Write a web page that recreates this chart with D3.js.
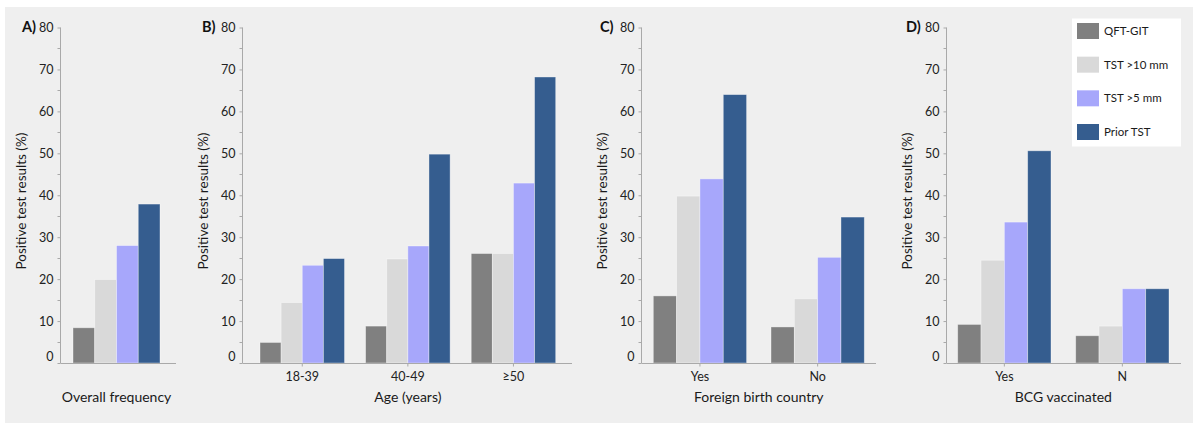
<!DOCTYPE html>
<html>
<head>
<meta charset="utf-8">
<script src="https://cdn.jsdelivr.net/npm/d3@7"></script>
<style>
  html, body { margin: 0; padding: 0; background: #ffffff; }
  svg { display: block; font-family: Lato, "Open Sans", sans-serif; }
</style>
</head>
<body>
<svg id="chart" width="1200" height="431"></svg>
<script>
// ---- data ----
const series = ["QFT-GIT", "TST >10 mm", "TST >5 mm", "Prior TST"];
const colors = ["#808080", "#d9d9d9", "#a7a7fb", "#355d8f"];
const yTicks = [0, 10, 20, 30, 40, 50, 60, 70, 80];

const catsA = ["Overall frequency"];
const valsA = [[8.4, 19.9, 28.0, 37.9]];

const catsB = ["18-39", "40-49", "≥50"];
const valsB = [
  [4.9, 14.4, 23.3, 24.9],
  [8.8, 24.8, 27.9, 49.8],
  [26.1, 26.1, 42.9, 68.2]
];

const catsC = ["Yes", "No"];
const valsC = [
  [16.0, 39.8, 43.9, 64.0],
  [8.6, 15.3, 25.2, 34.8]
];

const catsD = ["Yes", "N"];
const valsD = [
  [9.2, 24.5, 33.6, 50.6],
  [6.5, 8.8, 17.7, 17.7]
];

// ---- layout ----
const panels = [
  { letter: "A)", title: "Overall frequency", cats: catsA, vals: valsA, showCats: false,
    axisX: 60.5, xEnd: 176, groupStart: 73, step: 87, groupWidth: 87, letterX: 22 },
  { letter: "B)", title: "Age (years)", cats: catsB, vals: valsB, showCats: true,
    axisX: 242.5, xEnd: 572, groupStart: 260, step: 105.6, groupWidth: 84.5, letterX: 202 },
  { letter: "C)", title: "Foreign birth country", cats: catsC, vals: valsC, showCats: true,
    axisX: 641.5, xEnd: 876, groupStart: 653.3, step: 117.7, groupWidth: 93.3, letterX: 600 },
  { letter: "D)", title: "BCG vaccinated", cats: catsD, vals: valsD, showCats: true,
    axisX: 946.5, xEnd: 1181, groupStart: 957.7, step: 118, groupWidth: 93.3, letterX: 906 }
];

const svg = d3.select("#chart");
svg.append("rect").attr("x", 5).attr("y", 7).attr("width", 1188).attr("height", 416)
  .attr("fill", "#efefef");

const y = d3.scaleLinear().domain([0, 80]).range([363, 27.5]);
const axisColor = "#a9a9a9";

panels.forEach(p => {
  const g = svg.append("g");
  const n = p.cats.length;
  const pi = n > 1 ? 1 - p.groupWidth / p.step : 0;
  const x0 = d3.scaleBand().domain(p.cats)
    .range([p.groupStart, p.groupStart + p.step * (n - 1) + p.groupWidth])
    .paddingInner(pi).paddingOuter(0);
  const x1 = d3.scaleBand().domain(series).range([0, x0.bandwidth()]).padding(0);

  // bars
  p.cats.forEach((c, i) => {
    series.forEach((s, j) => {
      const v = p.vals[i][j];
      g.append("rect")
        .attr("x", x0(c) + x1(s))
        .attr("y", y(v))
        .attr("width", x1.bandwidth())
        .attr("height", y(0) - y(v))
        .attr("fill", colors[j])
        .attr("stroke", "#ffffff").attr("stroke-opacity", 0.45).attr("stroke-width", 0.8);
    });
  });

  // y axis
  const yAxis = d3.axisLeft(y).tickValues(yTicks).tickSize(3).tickPadding(4)
    .tickFormat(d3.format("d"));
  const ya = g.append("g").attr("transform", `translate(${p.axisX},0)`).call(yAxis);
  ya.select(".domain").attr("stroke", axisColor).attr("d", `M0,${y(80)}V${y(0)}`);
  ya.selectAll(".tick line").attr("stroke", axisColor);
  ya.selectAll(".tick text").attr("fill", "#222").style("font-size", "12.5px")
    .style("font-family", "Lato, sans-serif")
    .attr("dy", d => d === 0 ? "-0.2em" : "0.32em");
  // minor ticks
  const minor = d3.range(5, 80, 10);
  g.selectAll(".minor").data(minor).enter().append("line")
    .attr("x1", p.axisX - 3).attr("x2", p.axisX)
    .attr("y1", d => Math.round(y(d)) + 0.5).attr("y2", d => Math.round(y(d)) + 0.5)
    .attr("stroke", axisColor);

  // x axis line
  g.append("line").attr("x1", p.axisX).attr("x2", p.xEnd)
    .attr("y1", y(0) + 0.5).attr("y2", y(0) + 0.5).attr("stroke", axisColor);

  if (p.showCats) {
    const xAxis = d3.axisBottom(x0).tickSize(3).tickPadding(6);
    const xa = g.append("g").attr("transform", `translate(0,${y(0) + 0.5})`).call(xAxis);
    xa.select(".domain").remove();
    xa.selectAll(".tick line").attr("stroke", axisColor);
    xa.selectAll(".tick text").attr("fill", "#222").style("font-size", "12.5px")
      .style("font-family", "Lato, sans-serif");
  }

  // x title
  g.append("text").attr("x", x0.range()[0] + (x0.range()[1] - x0.range()[0]) / 2)
    .attr("y", 402).attr("text-anchor", "middle")
    .style("font-size", "14px").attr("fill", "#1a1a1a").text(p.title);

  // y title
  g.append("text")
    .attr("transform", `translate(${p.axisX - 35},${201}) rotate(-90)`)
    .attr("text-anchor", "middle")
    .style("font-size", "13.5px").attr("fill", "#1a1a1a")
    .text("Positive test results (%)");

  // panel letter
  g.append("text").attr("x", p.letterX).attr("y", 32)
    .style("font-size", "14.5px").style("font-weight", "bold").attr("fill", "#111")
    .text(p.letter);
});

// legend
const lg = svg.append("g");
lg.append("rect").attr("x", 1072).attr("y", 18.5).attr("width", 109).attr("height", 128)
  .attr("fill", "#ffffff");
const rowY = d3.scalePoint().domain(series).range([31, 132]);
series.forEach((s, j) => {
  lg.append("rect").attr("x", 1077).attr("y", rowY(s) - 8).attr("width", 22).attr("height", 16)
    .attr("fill", colors[j]);
  lg.append("text").attr("x", 1104).attr("y", rowY(s)).attr("dy", "0.35em")
    .style("font-size", "11.5px").attr("fill", "#1a1a1a").text(s);
});
</script>
</body>
</html>
